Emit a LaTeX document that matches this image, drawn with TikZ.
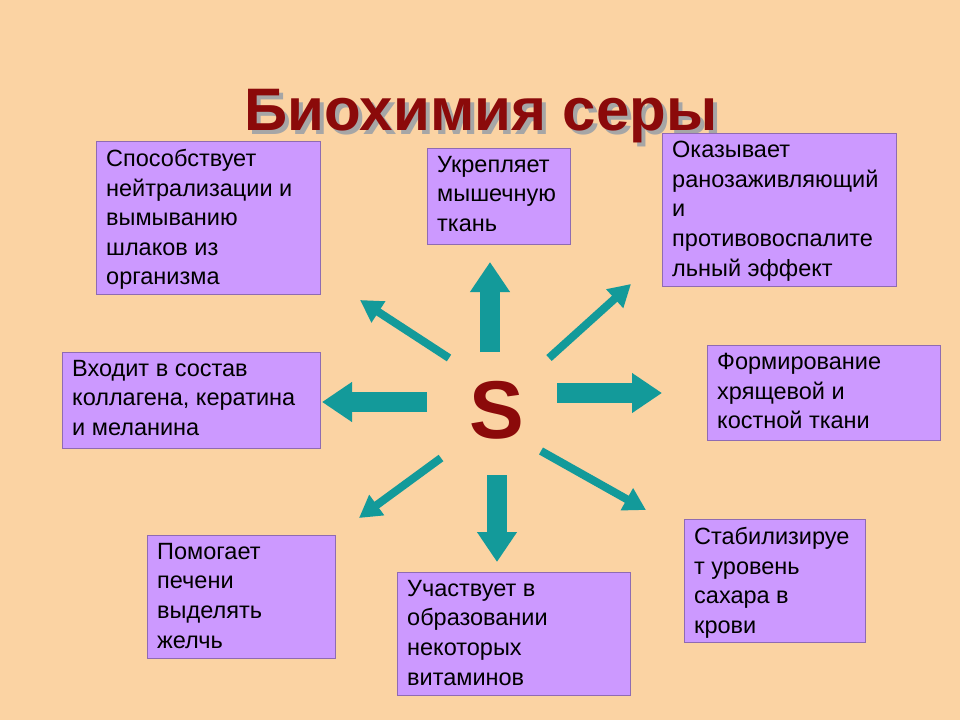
\documentclass[tikz,border=0pt]{standalone}
\usepackage{fontspec}
\setmainfont{Liberation Sans}
\usetikzlibrary{arrows.meta}
\definecolor{bg}{HTML}{FBD3A3}
\definecolor{vio}{HTML}{CC99FF}
\definecolor{teal1}{HTML}{139A9A}
\definecolor{dred}{HTML}{8B0A0A}
\begin{document}
\begin{tikzpicture}[x=1pt,y=-1pt,
  rect/.style={draw=vio!70!black,line width=0.6pt,fill=vio},
  txt/.style={anchor=north west,align=left,inner xsep=10pt,inner ysep=0pt,
    font=\fontsize{23.5}{29.6}\selectfont},
  thick arrow/.style={draw=teal1,line width=20pt,-{Triangle[width=38pt,length=30pt]}},
  thin arrow/.style={draw=teal1,line width=8pt,-{Triangle[width=24pt,length=22pt]}}]
\fill[bg] (0,0) rectangle (960,720);
\useasboundingbox (0,0) rectangle (960,720);
\node (tsh) at (485,120) {\fontsize{60}{60}\selectfont\bfseries\color{gray!70}Биохимия серы};
\node (title) at (481,116) {\fontsize{60}{60}\selectfont\bfseries\color{dred}Биохимия серы};
\node (s) at (497,410) {\fontsize{82}{82}\selectfont\bfseries\color{dred}S};
\path[rect] (96,141) rectangle (320,294);
\node[txt] (b1) at (96,149) {Способствует\\нейтрализации и\\вымыванию\\шлаков из\\организма};
\path[rect] (427,148) rectangle (570,244);
\node[txt] (b2) at (427,156) {Укрепляет\\мышечную\\ткань};
\path[rect] (662,133) rectangle (896,286);
\node[txt] (b3) at (662,141) {Оказывает\\ранозаживляющий\\и\\противовоспалите\\льный эффект};
\path[rect] (62,352) rectangle (320,448);
\node[txt] (b4) at (62,360) {Входит в состав\\коллагена, кератина\\и меланина};
\path[rect] (707,345) rectangle (940,440);
\node[txt] (b5) at (707,353) {Формирование\\хрящевой и\\костной ткани};
\path[rect] (147,535) rectangle (335,658);
\node[txt] (b6) at (147,543) {Помогает\\печени\\выделять\\желчь};
\path[rect] (397,572) rectangle (630,695);
\node[txt] (b7) at (397,580) {Участвует в\\образовании\\некоторых\\витаминов};
\path[rect] (684,519) rectangle (865,642);
\node[txt] (b8) at (684,527) {Стабилизируе\\т уровень\\сахара в\\крови};
\coordinate (u0) at (490,352); \coordinate (u1) at (490,262);
\coordinate (r0) at (557,393); \coordinate (r1) at (662,393);
\coordinate (l0) at (427,402); \coordinate (l1) at (322,402);
\coordinate (d0) at (497,475); \coordinate (d1) at (497,562);
\coordinate (a0) at (449,358); \coordinate (a1) at (360,300);
\coordinate (c0) at (549,358); \coordinate (c1) at (631,284);
\coordinate (e0) at (441,458); \coordinate (e1) at (359,518);
\coordinate (f0) at (541,451); \coordinate (f1) at (646,510);
\draw[thick arrow] (u0) -- (u1);
\draw[thick arrow] (r0) -- (r1);
\draw[thick arrow] (l0) -- (l1);
\draw[thick arrow] (d0) -- (d1);
\draw[thin arrow] (a0) -- (a1);
\draw[thin arrow] (c0) -- (c1);
\draw[thin arrow] (e0) -- (e1);
\draw[thin arrow] (f0) -- (f1);
\end{tikzpicture}
\end{document}
